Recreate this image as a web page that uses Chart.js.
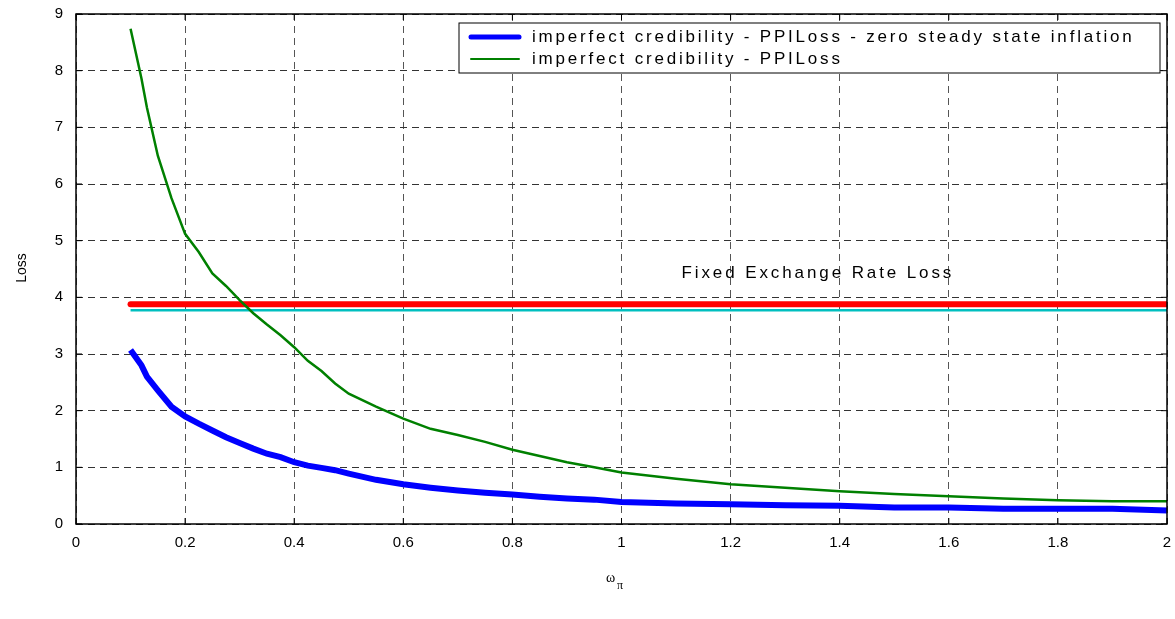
<!DOCTYPE html>
<html>
<head>
<meta charset="utf-8">
<script src="https://cdn.jsdelivr.net/npm/chart.js@4"></script>
<style>
  html, body { margin: 0; padding: 0; background: #fff; }
  #wrap { width: 1175px; height: 619px; position: relative; }
</style>
</head>
<body>
<div id="wrap"><canvas id="loss-chart"></canvas></div>
<script>
// omega_pi grid and the two loss curves
var omega = [0.1, 0.12, 0.13, 0.15, 0.175, 0.2, 0.225, 0.25, 0.275, 0.3, 0.325, 0.35, 0.375, 0.4,
  0.425, 0.45, 0.475, 0.5, 0.55, 0.6, 0.65, 0.7, 0.75, 0.8, 0.85, 0.9, 0.95, 1.0,
  1.1, 1.2, 1.3, 1.4, 1.5, 1.6, 1.7, 1.8, 1.9, 2.0];
var lossZeroInfl = [3.07, 2.8, 2.6, 2.36, 2.07, 1.9, 1.77, 1.65, 1.53, 1.43, 1.33, 1.24, 1.18, 1.09,
  1.03, 0.99, 0.95, 0.89, 0.78, 0.7, 0.64, 0.59, 0.55, 0.52, 0.48, 0.45, 0.43, 0.39,
  0.36, 0.35, 0.33, 0.32, 0.29, 0.29, 0.27, 0.27, 0.27, 0.24];
var lossPPI = [8.74, 7.86, 7.35, 6.5, 5.75, 5.12, 4.8, 4.42, 4.2, 3.95, 3.72, 3.52, 3.33, 3.12,
  2.88, 2.7, 2.48, 2.3, 2.07, 1.86, 1.68, 1.57, 1.45, 1.31, 1.2, 1.09, 1.0, 0.91,
  0.8, 0.7, 0.64, 0.58, 0.53, 0.49, 0.45, 0.42, 0.4, 0.4];
// fixed exchange rate losses (flat lines)
var fixedX = [0.1, 2.0];
var fixedLossA = [3.88, 3.88];
var fixedLossB = [3.77, 3.77];
var xTicks = [0, 0.2, 0.4, 0.6, 0.8, 1, 1.2, 1.4, 1.6, 1.8, 2];
var yTicks = [0, 1, 2, 3, 4, 5, 6, 7, 8, 9];
var legendLabels = ['imperfect credibility - PPILoss - zero steady state inflation',
  'imperfect credibility - PPILoss'];
var noteText = 'Fixed Exchange Rate Loss';

function pts(xs, ys) {
  return xs.map(function (x, i) { return { x: x, y: ys[i] }; });
}

var FONT = '"Liberation Sans", Arial, sans-serif';

var framePlugin = {
  id: 'frame',
  afterDraw: function (chart) {
    var c = chart.ctx, a = chart.chartArea;
    var xs = chart.scales.x, ys = chart.scales.y;
    c.save();
    // box
    c.strokeStyle = '#000';
    c.lineWidth = 1.5;
    c.strokeRect(a.left, a.top, a.right - a.left, a.bottom - a.top);
    // inward tick marks
    c.lineWidth = 1;
    xTicks.forEach(function (t) {
      var px = xs.getPixelForValue(t);
      c.beginPath();
      c.moveTo(px, a.bottom); c.lineTo(px, a.bottom - 6);
      c.moveTo(px, a.top); c.lineTo(px, a.top + 6);
      c.stroke();
    });
    yTicks.forEach(function (t) {
      var py = ys.getPixelForValue(t);
      c.beginPath();
      c.moveTo(a.left, py); c.lineTo(a.left + 6, py);
      c.moveTo(a.right, py); c.lineTo(a.right - 6, py);
      c.stroke();
    });

    // annotation
    c.fillStyle = '#000';
    c.font = '17px ' + FONT;
    c.letterSpacing = '2.9px';
    c.textBaseline = 'alphabetic';
    c.textAlign = 'left';
    c.fillText(noteText, xs.getPixelForValue(1.11), ys.getPixelForValue(4.35));

    // legend box
    var lx = 459, ly = 23, lw = 701, lh = 50;
    c.fillStyle = '#fff';
    c.fillRect(lx, ly, lw, lh);
    c.lineWidth = 1;
    c.strokeStyle = '#000';
    c.strokeRect(lx, ly, lw, lh);
    var rows = [{ col: '#0000ff', w: 5 }, { col: '#008000', w: 2 }];
    c.textBaseline = 'middle';
    rows.forEach(function (r, i) {
      var yy = ly + 14 + i * 22;
      c.strokeStyle = r.col;
      c.lineWidth = r.w;
      c.lineCap = 'round';
      c.beginPath();
      c.moveTo(471, yy); c.lineTo(519, yy);
      c.stroke();
      c.fillStyle = '#000';
      c.font = '17px ' + FONT;
      c.letterSpacing = '2.8px';
      c.fillText(legendLabels[i], 532, yy);
    });

    // axis titles
    c.letterSpacing = '0px';
    c.font = '14px ' + FONT;
    c.save();
    c.translate(22, 268);
    c.rotate(-Math.PI / 2);
    c.textAlign = 'center';
    c.fillText('Loss', 0, 0);
    c.restore();
    c.font = '14px "Liberation Serif", serif';
    c.textAlign = 'left';
    c.fillText('ω', 606, 578);
    c.font = '12px "Liberation Serif", serif';
    c.fillText('π', 617, 586);
    c.restore();
  }
};

var ctx = document.getElementById('loss-chart').getContext('2d');
var myChart = new Chart(ctx, {
  type: 'line',
  data: {
    datasets: [{
      label: legendLabels[0],
      data: pts(omega, lossZeroInfl),
      borderColor: '#0000ff',
      borderWidth: 6,
      pointRadius: 0,
      order: 1
    },
    {
      label: legendLabels[1],
      data: pts(omega, lossPPI),
      borderColor: '#008000',
      borderWidth: 2.5,
      pointRadius: 0,
      order: 2
    },
    {
      label: 'fixed A',
      data: pts(fixedX, fixedLossA),
      borderColor: '#ff0000',
      borderWidth: 6,
      borderCapStyle: 'round',
      pointRadius: 0,
      order: 3
    },
    {
      label: 'fixed B',
      data: pts(fixedX, fixedLossB),
      borderColor: '#00bfbf',
      borderWidth: 2.5,
      pointRadius: 0,
      order: 4
    }]
  },
  options: {
    responsive: true,
    maintainAspectRatio: false,
    animation: false,
    layout: { padding: { left: 0, right: 8, top: 14, bottom: 0 } },
    scales: {
      x: {
        type: 'linear',
        min: 0,
        max: 2,
        afterBuildTicks: function (s) { s.ticks = xTicks.map(function (v) { return { value: v }; }); },
        afterFit: function (s) { s.height = 95; s.paddingRight = 0; s.paddingLeft = 0; },
        border: { display: false, dash: [7, 5] },
        grid: { color: '#555', lineWidth: 1, drawTicks: false },
        ticks: {
          padding: 10, color: '#000', font: { family: FONT, size: 15 }, maxRotation: 0,
          callback: function (v) { return String(v); }
        }
      },
      y: {
        min: 0,
        max: 9,
        afterBuildTicks: function (s) { s.ticks = yTicks.map(function (v) { return { value: v }; }); },
        afterFit: function (s) { s.width = 76; s.paddingTop = 0; s.paddingBottom = 0; },
        border: { display: false, dash: [7, 5] },
        grid: { color: '#333', lineWidth: 1, drawTicks: false },
        ticks: { padding: 13, color: '#000', font: { family: FONT, size: 15 } }
      }
    },
    plugins: {
      legend: { display: false },
      tooltip: { enabled: false }
    }
  },
  plugins: [framePlugin]
});
</script>
</body>
</html>
